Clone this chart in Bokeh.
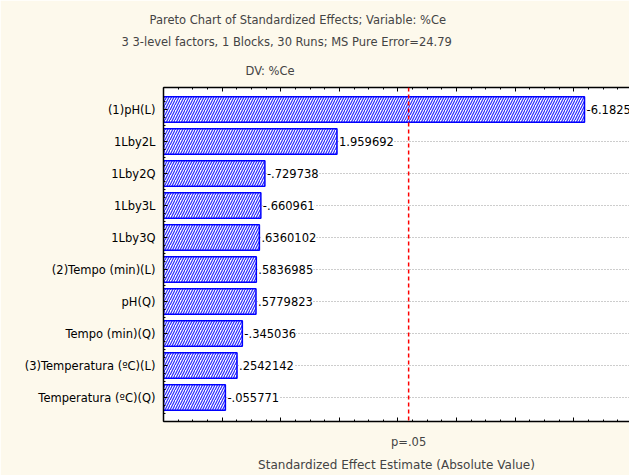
from bokeh.plotting import figure
from bokeh.models import (ColumnDataSource, FixedTicker, LinearAxis, Range1d, Span,
                          LabelSet, Title, CustomJSTickFormatter)
from bokeh.core.properties import value
from bokeh.embed import file_html
from bokeh.resources import INLINE

# ---- data ----
factors = ["(1)pH(L)", "1Lby2L", "1Lby2Q", "1Lby3L", "1Lby3Q",
           "(2)Tempo (min)(L)", "pH(Q)", "Tempo (min)(Q)",
           "(3)Temperatura (ºC)(L)", "Temperatura (ºC)(Q)"]
effects = [-6.1825, 1.959692, -0.729738, -0.660961, 0.6360102,
           0.5836985, 0.5779823, -0.345036, 0.2542142, -0.055771]
effect_labels = ["-6.1825", "1.959692", "-.729738", "-.660961", ".6360102",
                 ".5836985", ".5779823", "-.345036", ".2542142", "-.055771"]
t_crit = 3.182
p_label = "p=.05"
x_min, x_max = -1.0, 6.95
x_major = [-1, 0, 1, 2, 3, 4, 5, 6, 7]

title1 = "Pareto Chart of Standardized Effects; Variable: %Ce"
title2 = "3 3-level factors, 1 Blocks, 30 Runs; MS Pure Error=24.79"
title3 = "DV: %Ce"
x_title = "Standardized Effect Estimate (Absolute Value)"

idx = list(range(len(factors)))
src = ColumnDataSource(dict(
    y=idx,
    right=[abs(e) for e in effects],
    left=[x_min] * len(effects),
    lab=effect_labels,
))

FONT = "DejaVu Sans"
BG = "#FDF9EC"

p = figure(width=629, height=475, output_backend="svg", toolbar_location=None,
           x_range=Range1d(x_min, x_max), y_range=Range1d(9.75, -0.69),
           x_axis_location=None, y_axis_location=None,
           min_border_left=163, min_border_right=0, min_border_top=87,
           min_border_bottom=54)
p.background_fill_color = "white"
p.border_fill_color = BG
p.outline_line_color = None

# grid
p.xgrid.visible = False
p.ygrid.ticker = FixedTicker(ticks=idx)
p.ygrid.grid_line_color = "#9a9a9a"
p.ygrid.grid_line_dash = "1 2"
p.ygrid.grid_line_width = 1

# bars
p.hbar(y="y", left="left", right="right", height=0.8, source=src,
       fill_color="white", line_color="#0000FF", line_width=1.5,
       hatch_pattern="/", hatch_color="#2A2AFF", hatch_scale=5, hatch_weight=1.2)

# critical line
p.add_layout(Span(location=t_crit, dimension="height", line_color="#FF0000",
                  line_dash="4 3", line_width=1.5))

# value labels
p.add_layout(LabelSet(x="right", y="y", text="lab", source=src, x_offset=2,
                      text_baseline="middle", text_font=value(FONT),
                      text_font_size=value("11.5px"),
                      text_color="black", background_fill_color="white"))

minor_x = [x_min + k * 0.25 for k in range(0, 33)]

def tick_axis():
    ax = LinearAxis(ticker=FixedTicker(ticks=x_major, minor_ticks=minor_x))
    ax.major_tick_in = 4
    ax.major_tick_out = 0
    ax.minor_tick_in = 2
    ax.minor_tick_out = 0
    ax.axis_line_color = "black"
    ax.axis_line_width = 1.5
    ax.major_label_text_color = None      # tick values are not shown
    ax.major_label_text_font_size = "0px"
    ax.major_label_standoff = 0
    return ax

xb = tick_axis()
xt = tick_axis()
p.add_layout(xb, "below")
p.add_layout(xt, "above")

# p=.05 label axis + axis title
fmt = CustomJSTickFormatter(args=dict(lab=p_label), code="return lab;")
xp = LinearAxis(ticker=FixedTicker(ticks=[t_crit]), formatter=fmt, axis_label=x_title)
xp.axis_line_color = None
xp.major_tick_line_color = None
xp.minor_tick_line_color = None
xp.major_tick_in = 0
xp.major_tick_out = 0
xp.major_label_text_font = FONT
xp.major_label_text_font_size = "11.5px"
xp.major_label_standoff = 13
xp.axis_label_text_font = FONT
xp.axis_label_text_font_size = "12px"
xp.axis_label_text_font_style = "normal"
xp.axis_label_standoff = 6
p.add_layout(xp, "below")

# left axis
minor_y = [i + d for i in idx for d in (-0.25, 0.25, 0.5)]
yl = LinearAxis(ticker=FixedTicker(ticks=idx, minor_ticks=minor_y),
                major_label_overrides={i: f for i, f in zip(idx, factors)})
yl.major_tick_in = 4
yl.major_tick_out = 0
yl.minor_tick_in = 2
yl.minor_tick_out = 0
yl.axis_line_color = "black"
yl.axis_line_width = 1.5
yl.major_label_text_font = FONT
yl.major_label_text_font_size = "11.5px"
yl.major_label_text_color = "black"
yl.major_label_standoff = 8
p.add_layout(yl, "left")

# titles (left aligned with per-line offsets to mimic the original placement)
for t, off, so in ((title3, 82, 20), (title2, -42, 5), (title1, -14, 8)):
    p.add_layout(Title(text=t, align="left", offset=off, text_font=FONT,
                       text_font_size="11.5px", text_font_style="normal",
                       standoff=so), "above")

open("out.html", "w").write(file_html(p, INLINE))
